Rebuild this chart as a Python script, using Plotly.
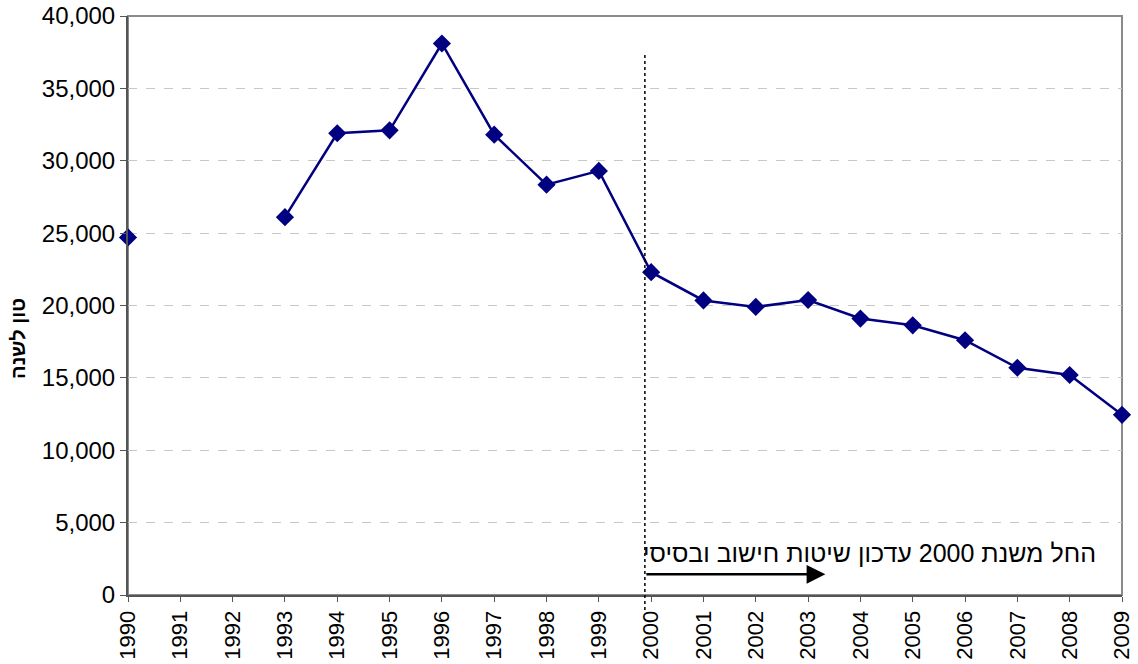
import plotly.graph_objects as go

years = list(range(1990, 2010))
tons = [24700, None, None, 26100, 31900, 32100, 38100, 31800, 28350, 29300,
        22300, 20350, 19900, 20380, 19100, 18630, 17600, 15700, 15200, 12450]
y_ticks = [0, 5000, 10000, 15000, 20000, 25000, 30000, 35000, 40000]
y_title = "טון לשנה"
note_text = "החל משנת 2000 עדכון שיטות חישוב ובסיסי"

FONT = "Liberation Sans, Arial, sans-serif"

fig = go.Figure()
fig.add_trace(go.Scatter(
    x=years, y=tons, mode="lines+markers",
    line=dict(color="#000080", width=2.5),
    marker=dict(symbol="diamond", size=14, color="#000080"),
    connectgaps=False, cliponaxis=False, showlegend=False,
))

# plot frame (top/right)
fig.add_shape(type="rect", xref="paper", yref="paper", x0=0, x1=1, y0=0, y1=1,
              line=dict(color="#8a8a8a", width=2), layer="below")

# dotted vertical separator at 2000
fig.add_shape(type="line", xref="x", yref="paper", x0=1999.88, x1=1999.88,
              y0=-0.026, y1=0.938, line=dict(color="black", width=1.5, dash="dot"))

# arrow
fig.add_annotation(x=2003.33, y=1430, ax=1999.88, ay=1430, xref="x", yref="y",
                   axref="x", ayref="y", showarrow=True, arrowhead=2,
                   arrowsize=1.5, arrowwidth=2.5, arrowcolor="black", text="")

fig.add_annotation(x=2008.55, y=2900, xref="x", yref="y", text=note_text,
                   showarrow=False, xanchor="right", yanchor="middle",
                   font=dict(family=FONT, size=25, color="black"))

# y-axis title
fig.add_annotation(x=-0.1107, y=0.444, xref="paper", yref="paper", text=y_title,
                   showarrow=False, textangle=-90, xanchor="center", yanchor="middle",
                   font=dict(family=FONT, size=20, color="black", weight="bold"))

fig.update_layout(
    width=1138, height=664,
    margin=dict(l=128, r=16, t=16, b=69),
    paper_bgcolor="white", plot_bgcolor="white",
    font=dict(family=FONT, color="black"),
)
fig.update_xaxes(
    range=[1990, 2009], tickmode="array", tickvals=years,
    ticktext=[str(y) for y in years], tickangle=-90,
    tickfont=dict(size=22), ticks="outside", ticklen=5, tickcolor="#555",
    showline=True, linecolor="#555", linewidth=2, showgrid=False, zeroline=False,
    automargin=False, ticklabeloverflow="allow",
)
fig.update_yaxes(
    range=[0, 40000], tickmode="array", tickvals=y_ticks, tickformat=",d",
    tickfont=dict(size=24), ticks="outside", ticklen=6, tickcolor="#555",
    showline=True, linecolor="#555", linewidth=2,
    showgrid=True, gridcolor="#c8c8c8", griddash="dash", gridwidth=1, zeroline=False,
    automargin=False, ticklabeloverflow="allow",
)

fig.write_html("out.html", config={"displayModeBar": False},
               post_script="document.body.style.margin='0';document.body.style.overflow='hidden';")
